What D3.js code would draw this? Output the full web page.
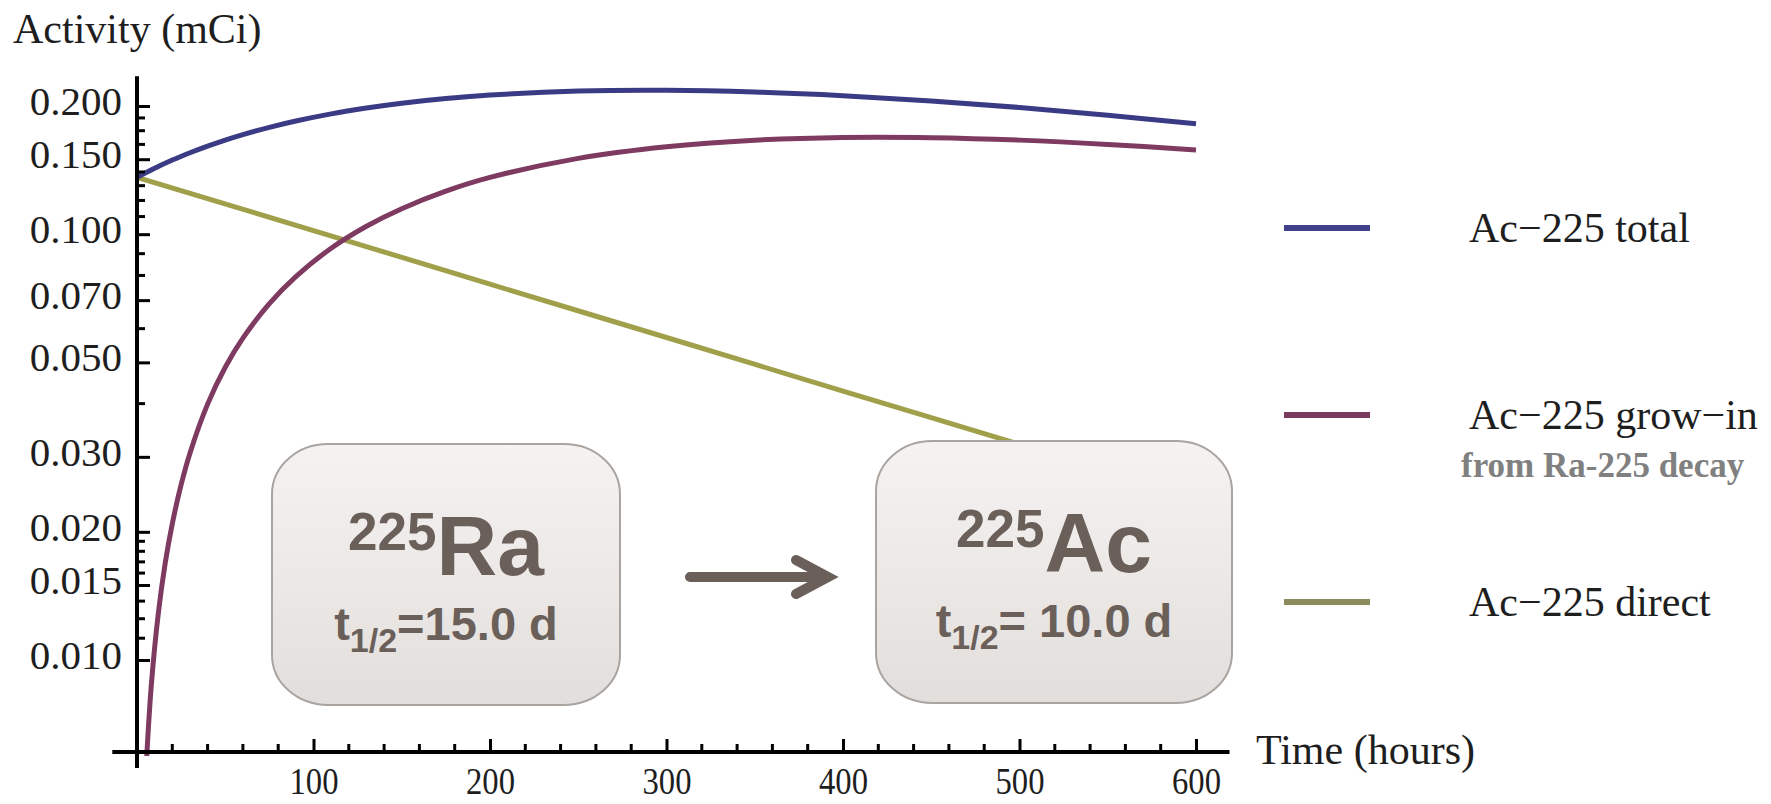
<!DOCTYPE html>
<html>
<head>
<meta charset="utf-8">
<script src="https://cdn.jsdelivr.net/npm/d3@7"></script>
<style>
  body { margin: 0; background: #fff; }
  svg { display: block; }
  .serif { font-family: "Liberation Serif", "DejaVu Serif", serif; }
</style>
</head>
<body>
<div id="chart"></div>
<script>
// values (time in hours, activity in mCi)
var totalHours  = [0, 10, 20, 30, 40, 50, 60, 75, 90, 110, 130, 150, 175, 200, 250, 300, 350, 400, 450, 500, 550, 600];
var totalValues = [0.136, 0.1428, 0.1493, 0.1553, 0.1610, 0.1664, 0.1714, 0.1782, 0.1844, 0.1917, 0.1978, 0.2030, 0.2082, 0.2122, 0.2168, 0.2177, 0.2157, 0.2115, 0.2056, 0.1984, 0.1903, 0.1816];

var growHours  = [5, 8, 12, 16, 20, 25, 30, 40, 50, 60, 75, 90, 110, 130, 150, 175, 200, 250, 300, 350, 400, 450, 500, 550, 600];
var growValues = [0.00542, 0.00861, 0.01279, 0.0169, 0.0209, 0.0258, 0.0306, 0.0399, 0.0487, 0.0570, 0.0687, 0.0795, 0.0927, 0.1044, 0.1148, 0.1262, 0.1359, 0.1507, 0.1605, 0.1662, 0.1687, 0.1685, 0.1663, 0.1625, 0.1576];

var directHours  = [0, 100, 200, 300, 400, 500, 600];
var directValues = [0.136, 0.102, 0.0763, 0.0572, 0.0428, 0.0321, 0.0240];

var xTickValues = [100, 200, 300, 400, 500, 600];
var yTickValues = [0.010, 0.015, 0.020, 0.030, 0.050, 0.070, 0.100, 0.150, 0.200];
var yMinorValues = [0.01125, 0.0125, 0.01375, 0.016, 0.017, 0.018, 0.019, 0.04, 0.06, 0.08, 0.09, 0.11, 0.12, 0.13, 0.14, 0.1625, 0.175, 0.1875];

var seriesNames  = ["Ac\u2212225 total", "Ac\u2212225 grow\u2212in", "Ac\u2212225 direct"];
var seriesColors = ["#3b3b85", "#7e3a60", "#a0a04a"];
var legendColors = ["#41418a", "#7c3a5c", "#8b8b5e"];

var width = 1771,
    height = 804;

var svg = d3.select("#chart")
            .append("svg")
            .attr("width", width)
            .attr("height", height);

var x = d3.scaleLinear().domain([0, 600]).range([137, 1196]);
var y = d3.scaleLog().domain([0.01, 0.2]).range([660, 106]);

var axisY = 752;   // where the time axis crosses

// curves
svg.append("clipPath").attr("id", "plotclip")
   .append("rect")
   .attr("x", x(0)).attr("y", 60)
   .attr("width", x(620) - x(0)).attr("height", axisY + 4 - 60);

var line = d3.line()
             .x(function(d){ return x(d[0]); })
             .y(function(d){ return y(d[1]); })
             .curve(d3.curveCatmullRom.alpha(0.5));

var series = [
  d3.zip(totalHours, totalValues),
  d3.zip(growHours, growValues),
  d3.zip(directHours, directValues)
];

var plot = svg.append("g").attr("clip-path", "url(#plotclip)");
plot.selectAll("path")
    .data([2, 1, 0])
    .enter()
    .append("path")
    .attr("d", function(i){ return line(series[i]); })
    .attr("fill", "none")
    .attr("stroke", function(i){ return seriesColors[i]; })
    .attr("stroke-width", 5);

// axes
var yAxis = d3.axisLeft(y)
              .tickValues(yTickValues)
              .tickFormat(d3.format(".3f"))
              .tickSize(-13)
              .tickPadding(15);

var gy = svg.append("g")
            .attr("class", "serif")
            .attr("transform", "translate(" + x(0) + ",0)")
            .call(yAxis);
gy.select(".domain").remove();
gy.selectAll(".tick line").attr("stroke", "#000").attr("stroke-width", 3);
gy.selectAll(".tick text")
  .attr("font-size", 41)
  .attr("fill", "#1e1e1e")
  .attr("dy", "0.2em");

gy.selectAll(".minor")
  .data(yMinorValues)
  .enter()
  .append("line")
  .attr("class", "minor")
  .attr("x1", 0).attr("x2", 8)
  .attr("y1", function(d){ return y(d); })
  .attr("y2", function(d){ return y(d); })
  .attr("stroke", "#000")
  .attr("stroke-width", 3);

var xAxis = d3.axisBottom(x)
              .tickValues(xTickValues)
              .tickFormat(d3.format("d"))
              .tickSize(-13)
              .tickPadding(15);

var gx = svg.append("g")
            .attr("class", "serif")
            .attr("transform", "translate(0," + axisY + ")")
            .call(xAxis);
gx.select(".domain").remove();
gx.selectAll(".tick line").attr("stroke", "#000").attr("stroke-width", 3);
gx.selectAll(".tick text")
  .attr("font-size", 38)
  .attr("fill", "#1e1e1e")
  .attr("transform", "scale(0.86,1)");

gx.selectAll(".minor")
  .data(x.ticks(30).filter(function(d){ return d > 0 && d % 100 !== 0; }))
  .enter()
  .append("line")
  .attr("class", "minor")
  .attr("x1", function(d){ return x(d); })
  .attr("x2", function(d){ return x(d); })
  .attr("y1", 0).attr("y2", -8)
  .attr("stroke", "#000")
  .attr("stroke-width", 3);

// axis lines
svg.append("line")
   .attr("x1", x(0)).attr("x2", x(0))
   .attr("y1", y(0.235)).attr("y2", axisY + 16)
   .attr("stroke", "#000").attr("stroke-width", 4);
svg.append("line")
   .attr("x1", x(-14)).attr("x2", x(619))
   .attr("y1", axisY).attr("y2", axisY)
   .attr("stroke", "#000").attr("stroke-width", 4);

svg.append("text")
   .attr("class", "serif")
   .attr("x", 13).attr("y", 43)
   .attr("font-size", 42)
   .attr("fill", "#1e1e1e")
   .text("Activity (mCi)");

svg.append("text")
   .attr("class", "serif")
   .attr("x", 1256).attr("y", 764)
   .attr("font-size", 42)
   .attr("fill", "#1e1e1e")
   .text("Time (hours)");

// legend
var legendY = [228, 415, 602];
var legend = svg.append("g").attr("class", "serif");
legend.selectAll("line")
      .data(seriesNames)
      .enter()
      .append("line")
      .attr("x1", 1284).attr("x2", 1370)
      .attr("y1", function(d, i){ return legendY[i]; })
      .attr("y2", function(d, i){ return legendY[i]; })
      .attr("stroke", function(d, i){ return legendColors[i]; })
      .attr("stroke-width", 6);
legend.selectAll("text")
      .data(seriesNames)
      .enter()
      .append("text")
      .attr("x", 1469)
      .attr("y", function(d, i){ return legendY[i] + 14; })
      .attr("font-size", 42)
      .attr("fill", "#1e1e1e")
      .text(function(d){ return d; });
legend.append("text")
      .attr("x", 1461).attr("y", 477)
      .attr("font-size", 35)
      .attr("font-weight", "bold")
      .attr("fill", "#808080")
      .text("from Ra-225 decay");

// decay chain boxes
var defs = svg.append("defs");
var grad = defs.append("linearGradient")
               .attr("id", "boxfill")
               .attr("x1", 0).attr("y1", 0).attr("x2", 0).attr("y2", 1);
grad.append("stop").attr("offset", "0%").attr("stop-color", "#f5f3f2");
grad.append("stop").attr("offset", "100%").attr("stop-color", "#e2dedb");

var boxes = [
  {x: 272, y: 444, w: 348, h: 261, mass: "225", sym: "Ra", half: "=15.0 d"},
  {x: 876, y: 441, w: 356, h: 262, mass: "225", sym: "Ac", half: "= 10.0 d"}
];
var ink = "#6b5f5a";

var box = svg.selectAll(".box")
             .data(boxes)
             .enter()
             .append("g")
             .attr("class", "box")
             .style("font-family", "'Liberation Sans', Arial, sans-serif")
             .style("font-weight", "bold");
box.append("rect")
   .attr("x", function(d){ return d.x; })
   .attr("y", function(d){ return d.y; })
   .attr("width", function(d){ return d.w; })
   .attr("height", function(d){ return d.h; })
   .attr("rx", 56).attr("ry", 50)
   .attr("fill", "url(#boxfill)")
   .attr("stroke", "#a9a4a0")
   .attr("stroke-width", 2);

var nuc = box.append("text")
             .attr("x", function(d){ return d.x + d.w / 2; })
             .attr("y", function(d){ return d.y + 131; })
             .attr("text-anchor", "middle")
             .attr("fill", ink);
nuc.append("tspan").attr("font-size", 53).attr("dy", -25).text(function(d){ return d.mass; });
nuc.append("tspan").attr("font-size", 84).attr("dy", 25).text(function(d){ return d.sym; });

var hl = box.append("text")
            .attr("x", function(d){ return d.x + d.w / 2; })
            .attr("y", function(d){ return d.y + 196; })
            .attr("text-anchor", "middle")
            .attr("fill", ink)
            .attr("font-size", 47);
hl.append("tspan").text("t");
hl.append("tspan").attr("font-size", 34).attr("dy", 12).text("1/2");
hl.append("tspan").attr("dy", -12).text(function(d){ return d.half; });

// arrow between the boxes
svg.append("path")
   .attr("d", "M690,577H824M796,560L828,577L796,594")
   .attr("fill", "none")
   .attr("stroke", ink)
   .attr("stroke-width", 10)
   .attr("stroke-linecap", "round")
   .attr("stroke-linejoin", "miter");
</script>
</body>
</html>
